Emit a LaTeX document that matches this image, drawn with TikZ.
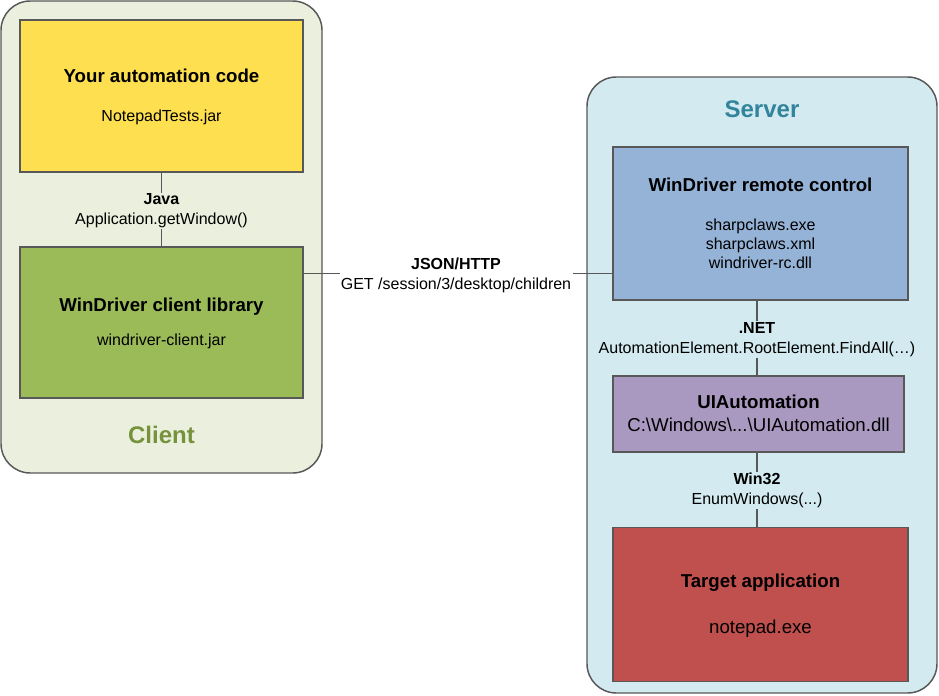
\documentclass[tikz,border=0pt]{standalone}
\usepackage{fontspec}
\setmainfont{Liberation Sans}
\definecolor{clientbg}{RGB}{235,240,222}
\definecolor{serverbg}{RGB}{210,234,240}
\definecolor{codefill}{RGB}{254,223,80}
\definecolor{libfill}{RGB}{155,187,89}
\definecolor{rcfill}{RGB}{149,179,215}
\definecolor{uiafill}{RGB}{169,153,192}
\definecolor{appfill}{RGB}{192,80,77}
\definecolor{edge}{RGB}{88,88,88}
\definecolor{clienttxt}{RGB}{118,146,60}
\definecolor{servertxt}{RGB}{49,132,155}
\tikzset{
  container/.style={draw=edge,line width=1.1pt,rounded corners=22pt},
  boxnode/.style={draw=edge,line width=1.1pt,inner sep=0pt,rectangle},
  ttl/.style={font=\fontsize{14}{16}\selectfont\bfseries,anchor=base,inner sep=0pt},
  sub/.style={font=\fontsize{12}{14}\selectfont,anchor=base,inner sep=0pt},
  bigsub/.style={font=\fontsize{14}{16}\selectfont,anchor=base,inner sep=0pt},
  grp/.style={font=\fontsize{18}{20}\selectfont\bfseries,anchor=base,inner sep=0pt},
  conn/.style={draw=edge,line width=0.8pt},
  lbl/.style={font=\fontsize{12}{15}\selectfont,align=center,inner sep=1pt},
}
\begin{document}
\begin{tikzpicture}[x=0.75pt,y=-0.75pt]
\useasboundingbox (0,0) rectangle (939,696);
% containers
\draw[container,fill=clientbg] (1,1) rectangle (322,473);
\draw[container,fill=serverbg] (587,77) rectangle (937,693);
% boxes
\node[boxnode,fill=codefill,minimum width=212.25pt,minimum height=114pt] (code) at (161.5,96) {};
\node[boxnode,fill=libfill,minimum width=212.25pt,minimum height=113.25pt] (lib) at (161.5,322.5) {};
\node[boxnode,fill=rcfill,minimum width=221.25pt,minimum height=114.75pt] (rc) at (760.5,223.5) {};
\node[boxnode,fill=uiafill,minimum width=218.25pt,minimum height=57pt] (uia) at (758.5,414) {};
\node[boxnode,fill=appfill,minimum width=221.25pt,minimum height=115.5pt] (app) at (760.5,604.5) {};
% box texts
\node[ttl] (codet) at (161.5,82.5) {Your automation code};
\node[sub] (codes) at (161.5,121.5) {NotepadTests.jar};
\node[ttl] (libt) at (161.5,311.5) {WinDriver client library};
\node[sub] (libs) at (161.5,345.5) {windriver-client.jar};
\node[ttl] (rct) at (760.5,191.5) {WinDriver remote control};
\node[sub] (rcs1) at (760.5,230.5) {sharpclaws.exe};
\node[sub] (rcs2) at (760.5,249.5) {sharpclaws.xml};
\node[sub] (rcs3) at (760.5,268.5) {windriver-rc.dll};
\node[ttl] (uiat) at (758.5,408.5) {UIAutomation};
\node[bigsub] (uias) at (758.5,431) {C:\textbackslash Windows\textbackslash...\textbackslash UIAutomation.dll};
\node[ttl] (appt) at (760.5,587.5) {Target application};
\node[bigsub] (apps) at (760.5,633) {notepad.exe};
% group labels
\node[grp,text=clienttxt] (clientlbl) at (161.5,443) {Client};
\node[grp,text=servertxt] (serverlbl) at (762,117.5) {Server};
% connectors
\draw[conn] (code.south) -- (lib.north);
\node[lbl,fill=clientbg] (javalbl) at (161.5,211) {\textbf{Java}\\Application.getWindow()};
\coordinate (hl) at (303,273.5);
\draw[conn] (lib.east |- hl) -- (rc.west |- hl);
\node[lbl,fill=white] (jsonlbl) at (456,275) {\textbf{JSON/HTTP}\\GET /session/3/desktop/children};
\coordinate (vx) at (757,0);
\draw[conn] (vx |- rc.south) -- (vx |- uia.north);
\node[lbl,fill=serverbg] (netlbl) at (757,339.5) {\textbf{.NET}\\AutomationElement.RootElement.FindAll(…)};
\draw[conn] (vx |- uia.south) -- (vx |- app.north);
\node[lbl,fill=serverbg] (winlbl) at (757,490.5) {\textbf{Win32}\\EnumWindows(...)};
\end{tikzpicture}
\end{document}
